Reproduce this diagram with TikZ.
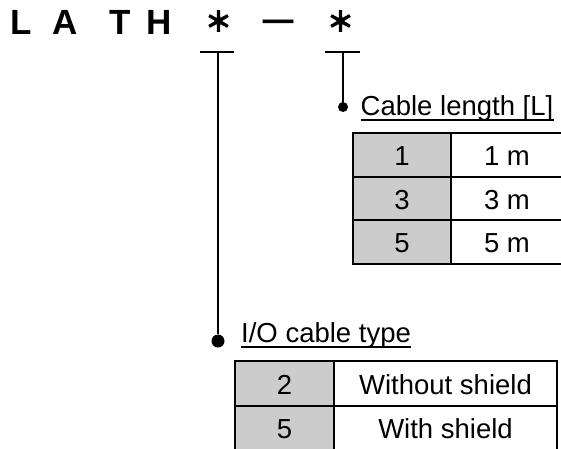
\documentclass[tikz,border=0pt]{standalone}
\usepackage{fontspec}
\setmainfont{Liberation Sans}
\newfontfamily\cjkb{Noto Sans CJK JP}[FakeBold=7]
\newfontfamily\dashfont{Liberation Sans}[FakeBold=2]
\definecolor{cellgray}{RGB}{204,204,204}
\begin{document}
\begin{tikzpicture}[x=1pt,y=-1pt,
  title/.style={inner sep=0pt, anchor=base, font=\fontsize{35}{40}\selectfont\bfseries},
  sym/.style={inner sep=0pt, anchor=center, font=\fontsize{26}{30}\selectfont\cjkb},
  dashsym/.style={inner sep=0pt, anchor=base, font=\fontsize{30}{34}\selectfont\dashfont\bfseries},
  lbl/.style={inner sep=0pt, anchor=base west, font=\fontsize{27.5}{32}\selectfont},
  cell/.style={draw, line width=2pt, inner sep=0pt, text height=22pt, text depth=0pt, font=\fontsize{27.5}{32}\selectfont},
  keycell/.style={cell, fill=cellgray},
  valcell/.style={cell, fill=white},
  bar/.style={line width=2pt},
  uline/.style={line width=1.6pt},
  dot/.style={circle, fill=black, inner sep=0pt}
]
\useasboundingbox (0,0) rectangle (561,448);
\clip (0,0) rectangle (561,448);

% model code
\node[title] (cL) at (21,34.3) {L};
\node[title] (cA) at (65,34.3) {A};
\node[title] (cT) at (120,34.3) {T};
\node[title] (cH) at (159,34.3) {H};
\node[sym] (ast1) at (218.5,21) {＊};
\node[dashsym] (dash) at (278,29.5) {—};
\node[sym] (ast2) at (340.5,21) {＊};

% T-bars and leaders
\coordinate (b1l) at (200,52);
\coordinate (b1r) at (234,52);
\coordinate (b1) at (218,52);
\coordinate (b2l) at (325,52);
\coordinate (b2r) at (360,52);
\coordinate (b2) at (343,52);
\draw[bar] (b1l) -- (b1r);
\draw[bar] (b2l) -- (b2r);
\node[dot, minimum size=10pt] (d2) at (343,107) {};
\node[dot, minimum size=13pt] (d1) at (218,341) {};
\draw[bar] (b2) -- (d2);
\draw[bar] (b1) -- (d1);

% labels
\node[lbl] (lenlbl) at (360.5,115.5) {Cable length [L]};
\draw[uline] ([yshift=-4.5pt]lenlbl.base west) -- ([yshift=-4.5pt]lenlbl.base east);
\node[lbl] (typlbl) at (241,342) {I/O cable type};
\draw[uline] ([yshift=-5pt]typlbl.base west) -- ([yshift=-5pt]typlbl.base east);

% cable length table
\node[keycell, minimum width=98pt, minimum height=43.5pt] (k1) at (402,154.75) {1};
\node[valcell, minimum width=112pt, minimum height=43.5pt] (v1) at (507,154.75) {1 m};
\node[keycell, minimum width=98pt, minimum height=43.5pt] (k3) at (402,198.25) {3};
\node[valcell, minimum width=112pt, minimum height=43.5pt] (v3) at (507,198.25) {3 m};
\node[keycell, minimum width=98pt, minimum height=43.5pt] (k5) at (402,241.75) {5};
\node[valcell, minimum width=112pt, minimum height=43.5pt] (v5) at (507,241.75) {5 m};

% cable type table
\node[keycell, minimum width=99pt, minimum height=44.8pt] (t2) at (284.5,383.1) {2};
\node[valcell, minimum width=223pt, minimum height=44.8pt] (w2) at (445.5,383.1) {Without shield};
\node[keycell, minimum width=99pt, minimum height=44.5pt] (t5) at (284.5,427.75) {5};
\node[valcell, minimum width=223pt, minimum height=44.5pt] (w5) at (445.5,427.75) {With shield};
\end{tikzpicture}
\end{document}
